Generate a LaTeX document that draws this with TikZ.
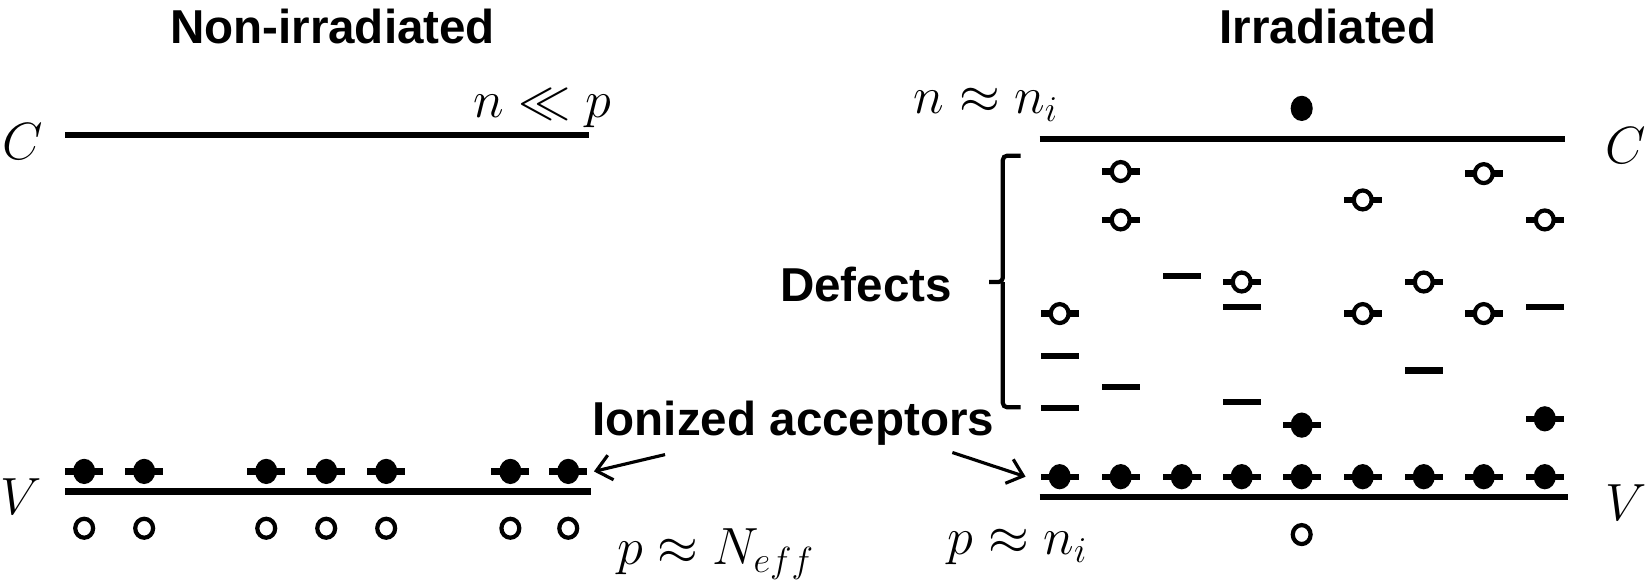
\documentclass[tikz,border=0pt]{standalone}
\usepackage{fontspec}
\setmainfont{Liberation Sans}
\usetikzlibrary{shapes.geometric,arrows.meta}
\begin{document}
\begin{tikzpicture}[x=0.5pt,y=-0.5pt,
  band/.style={line width=3pt},
  lvl/.style={rectangle, fill=black, minimum width=18pt, minimum height=3pt, inner sep=0pt},
  edot/.style={ellipse, fill=black, minimum width=10.5pt, minimum height=12pt, inner sep=0pt},
  hole/.style={ellipse, draw=black, fill=white, line width=2pt, minimum width=8.5pt, minimum height=9pt, inner sep=0pt},
  btext/.style={font=\bfseries\fontsize{22.6}{26}\selectfont, inner sep=0pt},
  mlab/.style={font=\fontsize{24}{28}\selectfont, inner sep=0pt},
  ptr/.style={line width=1.5pt, -{Straight Barb[length=7pt,width=12pt]}},
  brace/.style={line width=2pt, rounded corners=2pt}
]
\useasboundingbox (0,0) rectangle (1568,555);

% ---------- Non-irradiated ----------
\node[btext] (t1) at (316,25) {Non-irradiated};
\coordinate (lc1) at (62,128);
\coordinate (lc2) at (560,128);
\draw[band] (lc1) -- (lc2);
\node[mlab] (lC) at (22,135) {$C$};
\node[mlab] (lnp) at (515,103) {$n \ll p$};
\coordinate (lv1) at (62,467);
\coordinate (lv2) at (562,467);
\draw[band] (lv1) -- (lv2);
\node[mlab] (lV) at (20,472) {$V$};
\foreach \x [count=\i] in {80,137,253,310,367,485,540} {
  \node[lvl] (la\i) at (\x,448) {};
  \node[edot] (ld\i) at (la\i) {};
  \node[hole] (lh\i) at (\x,502) {};
}
\node[mlab] (lpN) at (680,527) {$p \approx N_{eff}$};

% ---------- Irradiated ----------
\node[btext] (t2) at (1262,25) {Irradiated};
\coordinate (rc1) at (988,132);
\coordinate (rc2) at (1487,132);
\draw[band] (rc1) -- (rc2);
\node[mlab] (rC) at (1545,138) {$C$};
\node[mlab] (rnn) at (937,100) {$n \approx n_i$};
\node[edot] (re) at (1237,103) {};
\coordinate (rv1) at (988,472);
\coordinate (rv2) at (1490,472);
\draw[band] (rv1) -- (rv2);
\node[mlab] (rV) at (1545,478) {$V$};
\foreach \x [count=\i] in {1007,1065,1123,1180,1237,1295,1353,1410,1468} {
  \node[lvl] (ra\i) at (\x,453) {};
  \node[edot] (rd\i) at (ra\i) {};
}
\node[hole] (rh) at (1237,508) {};
\node[mlab] (rpn) at (967,520) {$p \approx n_i$};

% defect levels with holes (empty)
\foreach \x/\y [count=\i] in {1007/298,1065/163,1065/209,1180/268,1295/190,1295/298,1353/268,1410/165,1410/298,1468/209} {
  \node[lvl] (dl\i) at (\x,\y) {};
  \node[hole] (dh\i) at (dl\i) {};
}
% bare defect levels
\foreach \x/\y [count=\i] in {1007/338,1007/388,1065/368,1123/262,1180/292,1180/382,1353/352,1468/292} {
  \node[lvl] (bl\i) at (\x,\y) {};
}
% filled defect levels
\foreach \x/\y [count=\i] in {1237/404,1468/398} {
  \node[lvl] (fl\i) at (\x,\y) {};
  \node[edot] (fd\i) at (fl\i) {};
}

% brace
\draw[brace] (970,148) -- (953,148) -- (953,268) -- (940,268) (953,268) -- (953,387) -- (970,387);
\node[btext] (def) at (823,270) {Defects};

% ionized acceptors
\node[btext] (ion) at (754,402) {Ionized acceptors};
\coordinate (ia1) at (632,432);
\coordinate (ia2) at (905,430);
\draw[ptr] (ia1) -- ([xshift=3pt]la7.east);
\draw[ptr] (ia2) -- ([xshift=-7pt]ra1.west);
\end{tikzpicture}
\end{document}
